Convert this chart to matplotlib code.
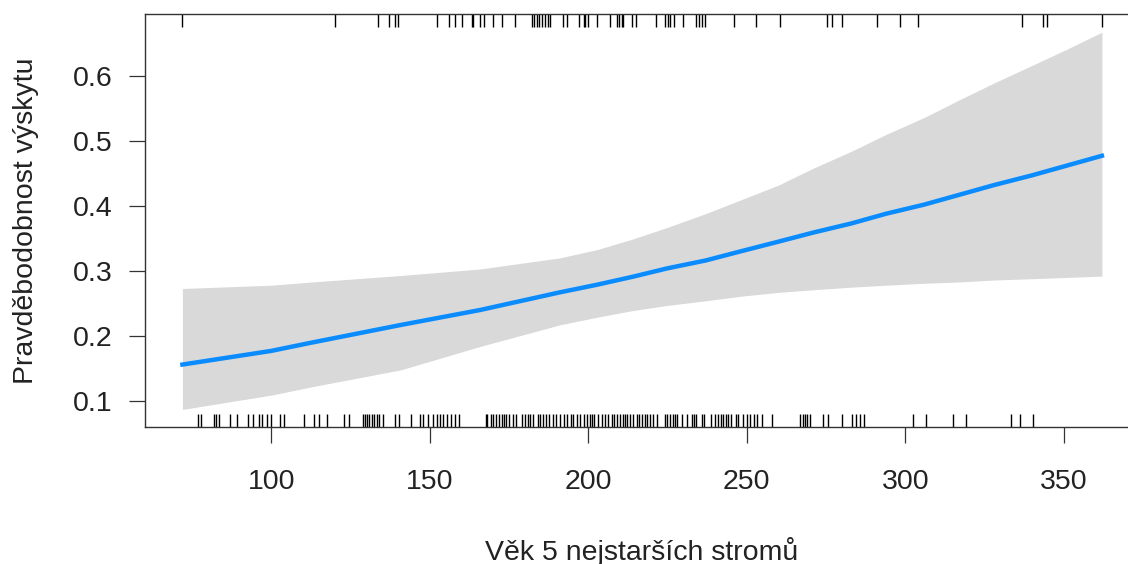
import numpy as np
import matplotlib
matplotlib.use("Agg")
import matplotlib.pyplot as plt
import matplotlib.transforms as mtransforms

plt.rcParams['font.family'] = ['Liberation Sans', 'DejaVu Sans']

# fitted curve and confidence band
age = [72, 100, 113, 141, 166, 191, 203, 214, 225, 237, 248, 260, 271, 283,
       294, 306, 317, 328, 340, 351, 362]
fit = [0.156, 0.177, 0.190, 0.217, 0.240, 0.267, 0.279, 0.291, 0.304, 0.316,
       0.330, 0.345, 0.359, 0.373, 0.388, 0.402, 0.417, 0.432, 0.447, 0.462,
       0.477]
upper = [0.273, 0.278, 0.283, 0.293, 0.303, 0.320, 0.333, 0.349, 0.367, 0.388,
         0.409, 0.432, 0.458, 0.484, 0.510, 0.536, 0.563, 0.589, 0.616, 0.641,
         0.667]
lower = [0.087, 0.109, 0.122, 0.148, 0.184, 0.217, 0.229, 0.239, 0.247, 0.254,
         0.261, 0.267, 0.271, 0.275, 0.278, 0.281, 0.283, 0.286, 0.288, 0.290,
         0.292]

# rug: presences (top) and absences (bottom)
rug_top = [71.8, 120.0, 133.8, 137.3, 138.9, 140.1, 152.2, 156.2, 158.0, 160.3,
           163.2, 163.7, 165.9, 167.2, 170.1, 172.9, 176.9, 182.2, 182.9, 183.8,
           184.6, 185.3, 186.4, 187.4, 188.0, 192.0, 193.2, 197.2, 198.5, 199.0,
           200.0, 202.7, 206.7, 209.0, 209.7, 210.6, 211.1, 213.9, 215.0, 221.4,
           224.2, 225.0, 225.8, 227.0, 230.0, 233.9, 234.9, 236.0, 236.8, 246.1,
           252.9, 260.5, 275.2, 277.0, 279.9, 291.0, 298.3, 303.9, 336.9, 343.3,
           344.7, 362.1]
rug_bottom = [76.8, 77.9, 82.0, 82.7, 83.4, 87.1, 89.2, 92.8, 94.4, 96.0, 97.1,
              98.6, 99.9, 102.8, 104.1, 110.2, 113.6, 115.1, 117.7, 123.0, 124.4,
              129.1, 129.6, 130.2, 131.0, 131.7, 132.5, 133.3, 134.1, 135.2,
              139.1, 140.4, 144.0, 146.8, 147.8, 149.6, 151.0, 152.2, 153.3,
              154.3, 155.4, 156.7, 158.0, 159.3,
              167.8, 168.2, 169.3, 170.1, 170.9, 172.0, 172.7, 173.5, 174.1,
              175.1, 176.4, 177.2, 179.0, 180.1, 180.9, 181.7, 182.7, 184.0,
              184.8, 185.8, 186.7, 187.7, 188.8, 189.8, 191.1, 192.2, 193.4,
              194.5, 195.3, 196.4, 197.4, 198.7, 199.5, 200.6,
              201.1, 201.8, 203.2, 204.3, 205.3, 206.3, 207.4, 208.1, 209.2,
              210.0, 210.9, 211.6, 212.3, 213.2, 214.2, 215.3, 216.1, 216.9,
              217.9, 218.6, 219.5, 220.5, 221.6, 224.2, 224.9, 225.8, 226.6,
              227.4, 228.1, 229.5, 231.1, 232.6, 233.4, 234.0,
              235.8, 236.5, 238.6, 240.0, 241.0, 241.8, 242.6, 243.4, 244.2,
              244.9, 246.6, 247.3, 248.7, 250.0, 251.0, 252.3, 253.3, 254.7,
              257.8, 266.8, 267.6, 268.3, 269.1, 269.9,
              274.1, 275.7, 279.9, 283.1, 284.6, 285.7, 286.9, 302.3, 306.5,
              314.9, 319.0, 333.2, 336.1, 340.3]

xticks = [100, 150, 200, 250, 300, 350]
yticks = [0.1, 0.2, 0.3, 0.4, 0.5, 0.6]

fig = plt.figure(figsize=(11.28, 5.64), dpi=100)
ax = fig.add_axes([145/1128, 1 - 427/564, (1139 - 145)/1128, (427 - 14)/564])

ax.fill_between(age, lower, upper, color="#d9d9d9", linewidth=0)
ax.plot(age, fit, color="#0a8cff", linewidth=3.2)

trans = mtransforms.blended_transform_factory(ax.transData, ax.transAxes)
ax.vlines(rug_top, 1 - 0.032, 1, transform=trans, color="black", linewidth=1.0)
ax.vlines(rug_bottom, 0, 0.032, transform=trans, color="black", linewidth=1.0)

ax.set_xlim(60.2, 373.7)
ax.set_ylim(0.06, 0.695)
ax.set_xticks(xticks)
ax.set_xticklabels([str(v) for v in xticks])
ax.set_yticks(yticks)
ax.set_yticklabels([f"{v:.1f}" for v in yticks])
ax.tick_params(axis="x", length=11.5, width=0.9, pad=19, labelsize=20.5,
               color="#333333", labelcolor="#222222")
ax.tick_params(axis="y", length=11.5, width=0.9, pad=12, labelsize=20.5,
               color="#333333", labelcolor="#222222")
for s in ax.spines.values():
    s.set_linewidth(1.0)
    s.set_color("#333333")

ax.set_xlabel("Věk 5 nejstarších stromů", fontsize=20.5, labelpad=30, color="#222222")
ax.set_ylabel("Pravděbodobnost výskytu", fontsize=20.5, labelpad=24, color="#222222")

fig.savefig("out.png", dpi=100)
